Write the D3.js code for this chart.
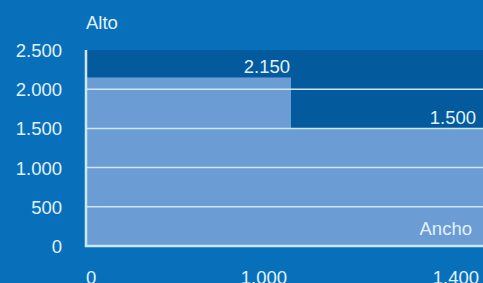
<!DOCTYPE html>
<html>
<head>
<meta charset="utf-8">
<script src="https://cdn.jsdelivr.net/npm/d3@7"></script>
<style>
  html, body { margin: 0; padding: 0; background: #0870ba; overflow: hidden; }
  svg { display: block; font-family: "Liberation Sans", Arial, sans-serif; }
</style>
</head>
<body>
<svg id="chart" width="483" height="283"></svg>
<script>
// outer frame: Ancho x Alto
const maxAncho = 1400;
const maxAlto = 2500;

// light areas (ancho, alto) and their labels
const areas = [
  { ancho: 1000, alto: 2150, label: "2.150" },
  { ancho: 1400, alto: 1500, label: "1.500" },
];

const yTicks = [0, 500, 1000, 1500, 2000, 2500];
const yTickLabels = ["0", "500", "1.000", "1.500", "2.000", "2.500"];
const xTicks = [0, 1000, 1400];
const xTickLabels = ["0", "1.000", "1.400"];

const width = 483;
const height = 283;
const margin = { top: 50, right: 0, bottom: 37, left: 86 };
const fontSize = "18.5px";

const svg = d3.select("#chart");

// the x axis is not proportional in the original, 1000 sits at about half
const x = d3
  .scaleLinear()
  .domain([0, 1000, maxAncho])
  .range([margin.left, 291, width - margin.right]);

const y = d3
  .scaleLinear()
  .domain([0, maxAlto])
  .range([height - margin.bottom, margin.top]);

const textColor = "#e2f1ff";
const lineColor = "#cfe6f8";

// dark frame
svg
  .append("rect")
  .attr("x", x(0))
  .attr("y", y(maxAlto))
  .attr("width", x(maxAncho) - x(0))
  .attr("height", y(0) - y(maxAlto))
  .attr("fill", "#035a9c");

// light areas
svg
  .selectAll("rect.area")
  .data(areas)
  .enter()
  .append("rect")
  .attr("class", "area")
  .attr("x", x(0))
  .attr("y", (d) => y(d.alto))
  .attr("width", (d) => x(d.ancho) - x(0))
  .attr("height", (d) => y(0) - y(d.alto))
  .attr("fill", "#6b9cd3");

// grid lines
svg
  .selectAll(".grid")
  .data(yTicks.filter((d) => d > 0 && d < maxAlto))
  .enter()
  .append("line")
  .attr("x1", x(0))
  .attr("x2", x(maxAncho))
  .attr("y1", (d) => y(d))
  .attr("y2", (d) => y(d))
  .attr("stroke", lineColor)
  .attr("stroke-width", 1.5);

// axes lines
svg
  .append("line")
  .attr("x1", x(0))
  .attr("x2", x(0))
  .attr("y1", y(maxAlto))
  .attr("y2", y(0) + 1)
  .attr("stroke", lineColor)
  .attr("stroke-width", 2.5);

svg
  .append("line")
  .attr("x1", x(0) - 1)
  .attr("x2", x(maxAncho))
  .attr("y1", y(0))
  .attr("y2", y(0))
  .attr("stroke", lineColor)
  .attr("stroke-width", 2.5);

// y tick labels
svg
  .selectAll(".y-label")
  .data(yTicks)
  .enter()
  .append("text")
  .attr("x", margin.left - 24)
  .attr("y", (d) => y(d) + 7)
  .attr("text-anchor", "end")
  .attr("font-size", fontSize)
  .attr("fill", textColor)
  .text((d, i) => yTickLabels[i]);

// x tick labels
svg
  .selectAll(".x-label")
  .data(xTicks)
  .enter()
  .append("text")
  .attr("x", (d, i) => (i === 0 ? x(d) : x(d) - 4))
  .attr("y", height + 1)
  .attr("text-anchor", (d, i) => (i === 0 ? "start" : "end"))
  .attr("font-size", fontSize)
  .attr("fill", textColor)
  .text((d, i) => xTickLabels[i]);

// value labels
svg
  .selectAll(".value-label")
  .data(areas)
  .enter()
  .append("text")
  .attr("x", (d) => x(d.ancho) - (d.ancho === maxAncho ? 7 : 1))
  .attr("y", (d) => y(d.alto) - 4)
  .attr("text-anchor", "end")
  .attr("font-size", fontSize)
  .attr("fill", textColor)
  .text((d) => d.label);

// axis titles
svg
  .append("text")
  .attr("x", margin.left)
  .attr("y", 29)
  .attr("font-size", fontSize)
  .attr("fill", textColor)
  .text("Alto");

svg
  .append("text")
  .attr("x", width - 11)
  .attr("y", y(0) - 11)
  .attr("text-anchor", "end")
  .attr("font-size", fontSize)
  .attr("fill", textColor)
  .text("Ancho");
</script>
</body>
</html>
